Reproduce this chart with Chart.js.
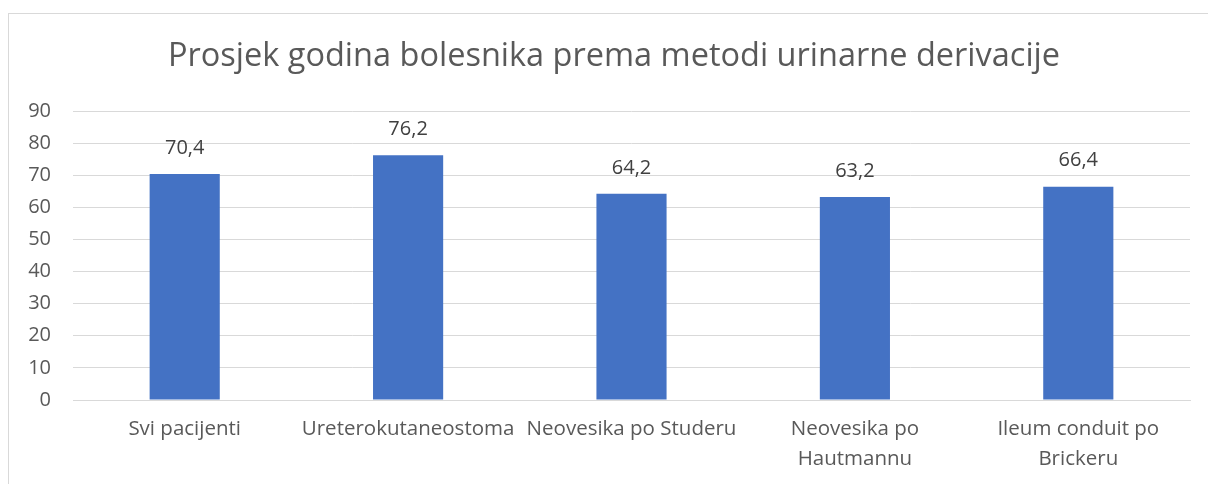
<!DOCTYPE html>
<html>
<head>
<meta charset="utf-8">
<script src="https://cdn.jsdelivr.net/npm/chart.js@4/dist/chart.umd.min.js"></script>
<style>
  body { margin: 0; background: #fff; overflow: hidden; }
  .frame { position: absolute; left: 8px; top: 13px; width: 1220px; height: 500px; border: 1px solid #d9d9d9; }
  .wrap { position: absolute; left: 0; top: 0; width: 1208px; height: 484px; }
</style>
</head>
<body>
<div class="frame"></div>
<div class="wrap"><canvas id="bar-canvas" width="1208" height="484"></canvas></div>
<script>
// kategorije i vrijednosti
const categories = [
  'Svi pacijenti',
  'Ureterokutaneostoma',
  'Neovesika po Studeru',
  ['Neovesika po', 'Hautmannu'],
  ['Ileum conduit po', 'Brickeru'],
]
const ages = [70.4, 76.2, 64.2, 63.2, 66.4]
const yTicks = [0, 10, 20, 30, 40, 50, 60, 70, 80, 90]
const chartTitle = 'Prosjek godina bolesnika prema metodi urinarne derivacije'

const fontFamily = '"Open Sans", Lato, sans-serif'

// naslov centriran na okvir grafa (okvir je širi od prozora)
const frameTitle = {
  id: 'frameTitle',
  afterDraw(chart) {
    const ctx = chart.ctx
    ctx.save()
    ctx.font = '32.5px ' + fontFamily
    ctx.fillStyle = '#595959'
    ctx.textAlign = 'center'
    ctx.textBaseline = 'middle'
    ctx.fillText(chartTitle, 614, 57)
    ctx.restore()
  },
}

// vrijednosti iznad stupaca
const valueLabels = {
  id: 'valueLabels',
  afterDatasetsDraw(chart) {
    const ctx = chart.ctx
    const meta = chart.getDatasetMeta(0)
    ctx.save()
    ctx.font = '20px ' + fontFamily
    ctx.fillStyle = '#404040'
    ctx.textAlign = 'center'
    ctx.textBaseline = 'middle'
    meta.data.forEach(function (bar, i) {
      ctx.fillText(String(ages[i]).replace('.', ','), bar.x, bar.y - 26)
    })
    ctx.restore()
  },
}

new Chart(document.getElementById('bar-canvas'), {
  type: 'bar',
  data: {
    labels: categories,
    datasets: [
      {
        label: 'Prosjek godina',
        data: ages,
        backgroundColor: '#4472c4',
        categoryPercentage: 1,
        barPercentage: 0.314,
      },
    ],
  },
  options: {
    responsive: false,
    animation: false,
    layout: { padding: { left: 0, right: 18, top: 111, bottom: 0 } },
    plugins: {
      legend: { display: false },
      tooltip: { enabled: false },
      title: { display: false },
    },
    scales: {
      x: {
        grid: { display: false, drawTicks: false },
        border: { color: '#d9d9d9' },
        ticks: {
          color: '#595959',
          font: { family: fontFamily, size: 20.5, lineHeight: 1.42 },
          padding: 15,
          maxRotation: 0,
          autoSkip: false,
        },
        afterFit(scale) { scale.height = 84 },
      },
      y: {
        min: 0,
        max: 90,
        afterBuildTicks(scale) { scale.ticks = yTicks.map(v => ({ value: v })) },
        grid: { color: '#d9d9d9', drawTicks: false },
        border: { display: false },
        ticks: {
          color: '#595959',
          font: { family: fontFamily, size: 20 },
          padding: 22,
        },
        afterFit(scale) { scale.width = 73 },
      },
    },
  },
  plugins: [valueLabels, frameTitle],
})
</script>
</body>
</html>
